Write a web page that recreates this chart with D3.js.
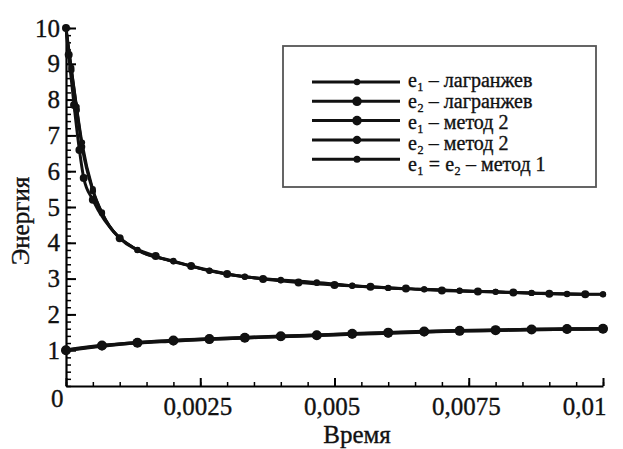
<!DOCTYPE html>
<html>
<head>
<meta charset="utf-8">
<script src="https://cdn.jsdelivr.net/npm/d3@7"></script>
<style>
    body { margin: 0; background: #ffffff; }
    svg { display: block; }
</style>
</head>
<body>
<svg id="chart" width="623" height="449"></svg>
<script>
// Energie zweier Teilsysteme über die Zeit, drei Verfahren

// Zeitpunkte und Werte
const tE1Lagr = [0, 0.0001, 0.0002, 0.0003, 0.0005, 0.00067, 0.00133, 0.002, 0.00267, 0.00333,
    0.004, 0.00467, 0.00533, 0.006, 0.00667, 0.00733, 0.008, 0.00867, 0.00933, 0.01];
const e1Lagr = [10.0, 8.83, 7.71, 6.68, 5.45, 4.83, 3.80, 3.49, 3.22, 3.05,
    2.96, 2.89, 2.80, 2.74, 2.70, 2.66, 2.63, 2.60, 2.57, 2.56];

const tE1M2 = [0, 0.00005, 0.00015, 0.00025, 0.00033, 0.0005, 0.001, 0.00167, 0.00233, 0.003,
    0.00367, 0.00433, 0.005, 0.00567, 0.00633, 0.007, 0.00767, 0.00833, 0.009, 0.00967];
const e1M2 = [10.0, 9.25, 7.85, 6.59, 5.81, 5.20, 4.13, 3.63, 3.35, 3.13,
    2.99, 2.89, 2.82, 2.77, 2.72, 2.67, 2.64, 2.61, 2.58, 2.56];

const tLower = [0, 0.00067, 0.00133, 0.002, 0.00267, 0.00333, 0.004, 0.00467,
    0.00533, 0.006, 0.00667, 0.00733, 0.008, 0.00867, 0.00933, 0.01];
const e2Lagr = [1.00, 1.13, 1.21, 1.27, 1.31, 1.35, 1.39, 1.42, 1.46, 1.49, 1.52, 1.54, 1.56, 1.58, 1.59, 1.60];
const e2M2 = [1.00, 1.12, 1.21, 1.26, 1.31, 1.35, 1.38, 1.42, 1.45, 1.48, 1.51, 1.54, 1.56, 1.58, 1.59, 1.60];

const eM1 = [10.0, 8.90, 7.80, 6.80, 5.50, 4.85, 3.80, 3.48, 3.22, 3.05,
    2.95, 2.88, 2.80, 2.74, 2.70, 2.66, 2.63, 2.60, 2.57, 2.56];

// Legende
const legendLabels = [
    "e₁ – лагранжев",
    "e₂ – лагранжев",
    "e₁ – метод 2",
    "e₂ – метод 2",
    "e₁ = e₂ – метод 1"
];

// Achsen
const yTicks = [1, 2, 3, 4, 5, 6, 7, 8, 9, 10];
const xTicks = [0, 0.0025, 0.005, 0.0075, 0.01];
const xTickLabels = ["0", "0,0025", "0,005", "0,0075", "0,01"];
const xTitle = "Время";
const yTitle = "Энергия";

const FONT = '"Liberation Serif"';

// Reihen zusammenstellen (Zeichenstil je Reihe)
const series = [
    { name: legendLabels[0], t: tE1Lagr, v: e1Lagr, r: 3.2, lr: 3.2, w: 3 },
    { name: legendLabels[1], t: tLower, v: e2Lagr, r: 5, lr: 4.8, w: 3.5 },
    { name: legendLabels[2], t: tE1M2, v: e1M2, r: 4, lr: 4.8, w: 3 },
    { name: legendLabels[3], t: tLower, v: e2M2, r: 4.5, lr: 4.2, w: 3.5 },
    { name: legendLabels[4], t: tE1Lagr, v: eM1, r: 3, lr: 3.5, w: 2.5 }
];

const svg = d3.select("#chart");

const x = d3.scaleLinear().domain([0, 0.01]).range([66, 603]);
const y = d3.scaleLinear().domain([0, 10]).range([386, 28]);

// Schrift auf einzelne Texte setzen
function serif(sel, size) {
    return sel
        .style("font-family", FONT)
        .style("font-size", `${size}px`)
        .attr("fill", "#111")
        .attr("stroke", "#111")
        .attr("stroke-width", 0.35);
}

// Nebenstriche
svg.append("g")
    .attr("transform", `translate(0,${y(0)})`)
    .call(d3.axisBottom(x).tickValues(d3.range(0, 0.01001, 0.0005)).tickSize(-4).tickFormat(""))
    .call(g => g.select(".domain").remove())
    .selectAll("line").attr("stroke-width", 1.5);

svg.append("g")
    .attr("transform", `translate(${x(0)},0)`)
    .call(d3.axisLeft(y).tickValues(d3.range(0, 10.01, 0.2)).tickSize(-5).tickFormat(""))
    .call(g => g.select(".domain").remove())
    .selectAll("line").attr("stroke-width", 1.5);

// Hauptachsen
const xAxis = svg.append("g")
    .attr("transform", `translate(0,${y(0)})`)
    .call(d3.axisBottom(x)
        .tickValues(xTicks)
        .tickSize(-8)
        .tickSizeOuter(0)
        .tickPadding(11)
        .tickFormat((d, i) => xTickLabels[i]));

// "0" sitzt links unter dem Ursprung, "0,01" endet am Achsenende
xAxis.selectAll(".tick")
    .filter(d => d === 0)
    .select("text")
    .attr("text-anchor", "end")
    .attr("dx", "-3")
    .attr("dy", "0.4em");

xAxis.selectAll(".tick")
    .filter(d => d === 0.01)
    .select("text")
    .attr("text-anchor", "end")
    .attr("dx", "3");

xAxis.selectAll(".tick")
    .filter(d => d > 0 && d < 0.01)
    .select("text")
    .attr("dx", "-3");

const yAxis = svg.append("g")
    .attr("transform", `translate(${x(0)},0)`)
    .call(d3.axisLeft(y)
        .tickValues(yTicks)
        .tickSize(-10)
        .tickSizeOuter(0)
        .tickPadding(6));

[xAxis, yAxis].forEach(g => {
    g.select(".domain").attr("stroke-width", 2.2);
    g.selectAll(".tick line").attr("stroke-width", 2);
    serif(g.selectAll("text"), 25);
});

// Achsentitel
serif(svg.append("text"), 25)
    .attr("x", 357)
    .attr("y", 443)
    .attr("text-anchor", "middle")
    .text(xTitle);

serif(svg.append("text"), 25)
    .attr("transform", "translate(29,221) rotate(-90)")
    .attr("text-anchor", "middle")
    .text(yTitle);

// Kurven
const line = d3.line()
    .x(d => x(d[0]))
    .y(d => y(d[1]))
    .curve(d3.curveMonotoneX);

series.forEach(s => {
    const pts = s.t.map((t, i) => [t, s.v[i]]);

    svg.append("path")
        .datum(pts)
        .attr("fill", "none")
        .attr("stroke", "#111")
        .attr("stroke-width", s.w)
        .attr("stroke-linejoin", "round")
        .attr("d", line);

    svg.append("g")
        .selectAll("circle")
        .data(pts)
        .join("circle")
        .attr("cx", d => x(d[0]))
        .attr("cy", d => y(d[1]))
        .attr("r", s.r)
        .attr("fill", "#111");
});

// Legende
const legend = svg.append("g");

legend.append("rect")
    .attr("x", 283)
    .attr("y", 46)
    .attr("width", 313)
    .attr("height", 141)
    .attr("fill", "#fff")
    .attr("stroke", "#555")
    .attr("stroke-width", 1.8);

series.forEach((s, i) => {
    const ly = 82 + i * 19.3;
    const ty = 87 + i * 21;

    legend.append("line")
        .attr("x1", 312).attr("x2", 400)
        .attr("y1", ly).attr("y2", ly)
        .attr("stroke", "#111")
        .attr("stroke-width", 3);

    legend.append("circle")
        .attr("cx", 357).attr("cy", ly)
        .attr("r", s.lr)
        .attr("fill", "#111");

    serif(legend.append("text"), 20)
        .attr("x", 408)
        .attr("y", ty)
        .text(s.name);
});
</script>
</body>
</html>
